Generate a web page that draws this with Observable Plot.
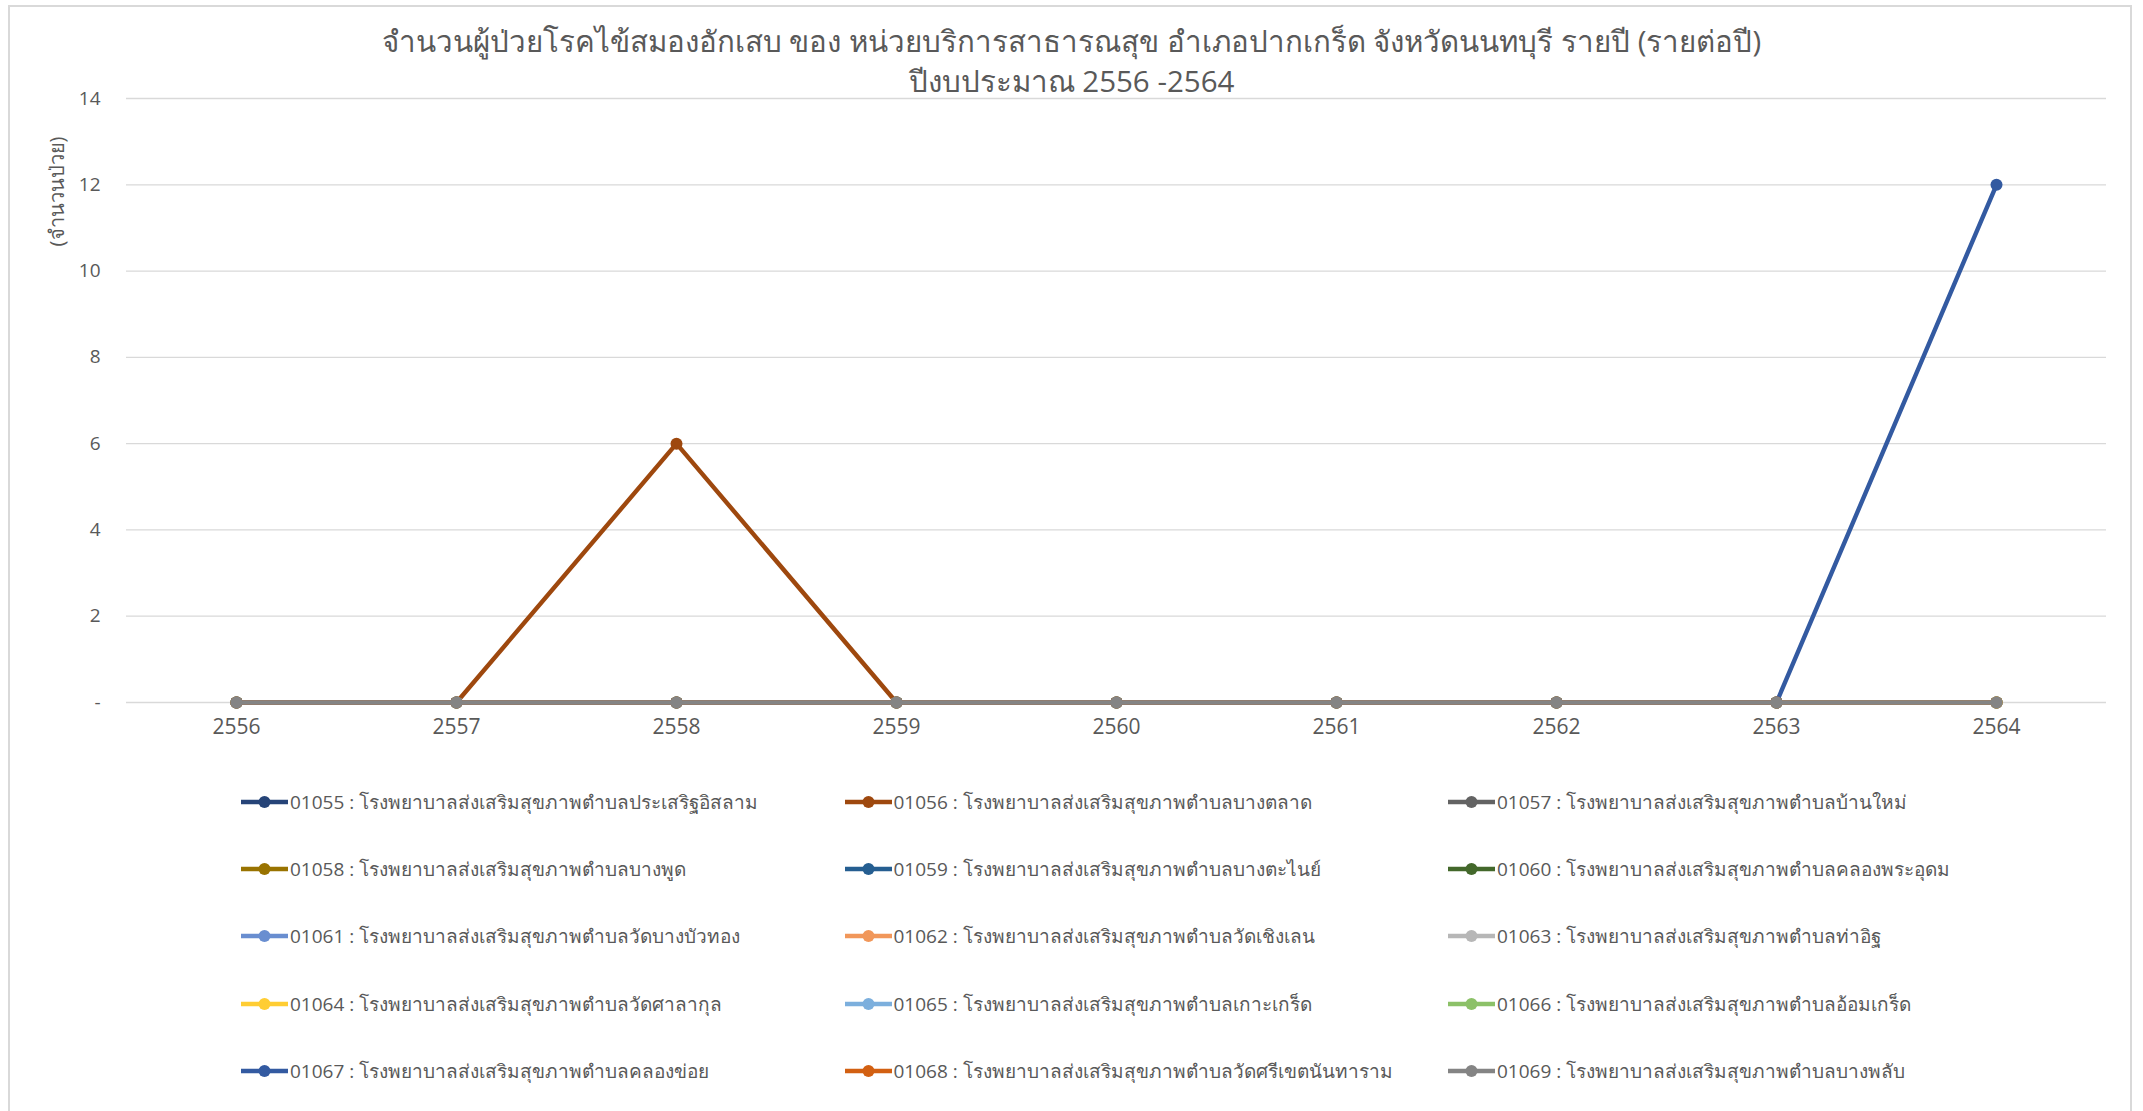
<!DOCTYPE html>
<html>
<head>
<meta charset="utf-8">
<script src="https://cdn.jsdelivr.net/npm/d3@7"></script>
<script src="https://cdn.jsdelivr.net/npm/@observablehq/plot@0.6"></script>
<style>
  html, body { margin: 0; padding: 0; background: #fff; }
  #wrap { position: relative; width: 2143px; height: 1111px; overflow: hidden;
          font-family: "Segoe UI", "Open Sans", "Noto Sans", sans-serif; color: #595959; }
  #border { position: absolute; left: 8px; top: 5px; width: 2124px; height: 1200px;
            border: 2px solid #D9D9D9; box-sizing: border-box; pointer-events: none; }
  #title { height: 80px; box-sizing: border-box; padding-top: 21px; text-align: center;
           font-size: 29.5px; line-height: 40px; color: #595959; overflow: visible; position: relative; z-index: 1; }
  #title div { height: 40px; }
  #legend { position: relative; padding-top: 8px; padding-left: 241px; display: grid;
            grid-template-columns: 603.5px 603.5px 603.5px; grid-auto-rows: 67.3px; }
  .item { display: flex; align-items: center; font-size: 19px; color: #595959; white-space: nowrap; }
  .item svg { flex: none; margin-right: 2px; }
  #plot svg { display: block; }
</style>
</head>
<body>
<div id="wrap">
  <div id="border"></div>
  <div id="title"></div>
  <div id="plot"></div>
  <div id="legend"></div>
</div>
<script>
const titleLine1 = "จำนวนผู้ป่วยโรคไข้สมองอักเสบ ของ หน่วยบริการสาธารณสุข อำเภอปากเกร็ด จังหวัดนนทบุรี รายปี (รายต่อปี)";
const titleLine2 = "ปีงบประมาณ 2556 -2564";
const yLabel = "(จำนวนป่วย)";

const years = [2556, 2557, 2558, 2559, 2560, 2561, 2562, 2563, 2564];
const yTicks = [0, 2, 4, 6, 8, 10, 12, 14];

const codes = ["01055","01056","01057","01058","01059","01060","01061","01062","01063","01064","01065","01066","01067","01068","01069"];
const names = [
  "โรงพยาบาลส่งเสริมสุขภาพตำบลประเสริฐอิสลาม",
  "โรงพยาบาลส่งเสริมสุขภาพตำบลบางตลาด",
  "โรงพยาบาลส่งเสริมสุขภาพตำบลบ้านใหม่",
  "โรงพยาบาลส่งเสริมสุขภาพตำบลบางพูด",
  "โรงพยาบาลส่งเสริมสุขภาพตำบลบางตะไนย์",
  "โรงพยาบาลส่งเสริมสุขภาพตำบลคลองพระอุดม",
  "โรงพยาบาลส่งเสริมสุขภาพตำบลวัดบางบัวทอง",
  "โรงพยาบาลส่งเสริมสุขภาพตำบลวัดเชิงเลน",
  "โรงพยาบาลส่งเสริมสุขภาพตำบลท่าอิฐ",
  "โรงพยาบาลส่งเสริมสุขภาพตำบลวัดศาลากุล",
  "โรงพยาบาลส่งเสริมสุขภาพตำบลเกาะเกร็ด",
  "โรงพยาบาลส่งเสริมสุขภาพตำบลอ้อมเกร็ด",
  "โรงพยาบาลส่งเสริมสุขภาพตำบลคลองข่อย",
  "โรงพยาบาลส่งเสริมสุขภาพตำบลวัดศรีเขตนันทาราม",
  "โรงพยาบาลส่งเสริมสุขภาพตำบลบางพลับ"
];
const colors = ["#264478","#9E480E","#636363","#997300","#255E91","#43682B","#698ED0","#F1975A","#B7B7B7","#FFCD33","#7CAFDD","#8CC168","#335AA1","#D26012","#848484"];

// values per series, 2556..2564
const s01055 = [0,0,0,0,0,0,0,0,0];
const s01056 = [0,0,6,0,0,0,0,0,0];
const s01057 = [0,0,0,0,0,0,0,0,0];
const s01058 = [0,0,0,0,0,0,0,0,0];
const s01059 = [0,0,0,0,0,0,0,0,0];
const s01060 = [0,0,0,0,0,0,0,0,0];
const s01061 = [0,0,0,0,0,0,0,0,0];
const s01062 = [0,0,0,0,0,0,0,0,0];
const s01063 = [0,0,0,0,0,0,0,0,0];
const s01064 = [0,0,0,0,0,0,0,0,0];
const s01065 = [0,0,0,0,0,0,0,0,0];
const s01066 = [0,0,0,0,0,0,0,0,0];
const s01067 = [0,0,0,0,0,0,0,0,12];
const s01068 = [0,0,0,0,0,0,0,0,0];
const s01069 = [0,0,0,0,0,0,0,0,0];
const seriesValues = [s01055,s01056,s01057,s01058,s01059,s01060,s01061,s01062,s01063,s01064,s01065,s01066,s01067,s01068,s01069];

document.getElementById("title").innerHTML = `<div>${titleLine1}</div><div>${titleLine2}</div>`;

const marks = [
  Plot.gridY(yTicks, {stroke: "#D9D9D9", strokeOpacity: 1, strokeWidth: 1.3}),
  Plot.axisY(yTicks, {tickSize: 0, tickPadding: 26, fontSize: 19, fill: "#595959",
    tickFormat: d => d === 0 ? "-" : String(d), label: null}),
  Plot.axisX({tickSize: 0, tickPadding: 17, fontSize: 21, fill: "#595959", label: null,
    tickFormat: d => String(d)}),
  Plot.text([yLabel], {frameAnchor: "top-left", rotate: -90, dx: -77, dy: 93,
    fontSize: 20, fill: "#595959", textAnchor: "middle"})
];
codes.forEach((c, i) => {
  const data = years.map((yr, j) => ({year: yr, value: seriesValues[i][j], code: c}));
  marks.push(Plot.line(data, {x: "year", y: "value", stroke: colors[i], strokeWidth: 4.4}));
  marks.push(Plot.dot(data, {x: "year", y: "value", fill: colors[i], r: 6, stroke: "none"}));
});

const chart = Plot.plot({
  width: 2143,
  height: 680,
  marginTop: 18,
  marginBottom: 58,
  marginLeft: 126,
  marginRight: 37,
  style: {fontFamily: "'Segoe UI', 'Open Sans', 'Noto Sans', sans-serif", background: "transparent"},
  x: {type: "point", domain: years, padding: 0.5},
  y: {domain: [0, 14]},
  marks
});
document.getElementById("plot").appendChild(chart);

const legend = d3.select("#legend");
codes.forEach((c, i) => {
  const item = legend.append("div").attr("class", "item");
  const sw = item.append("svg").attr("width", 47).attr("height", 14);
  sw.append("line").attr("x1", 0).attr("x2", 47).attr("y1", 7).attr("y2", 7)
    .attr("stroke", colors[i]).attr("stroke-width", 4.4);
  sw.append("circle").attr("cx", 23.5).attr("cy", 7).attr("r", 6).attr("fill", colors[i]);
  item.append("span").text(`${c} : ${names[i]}`);
});
</script>
</body>
</html>
